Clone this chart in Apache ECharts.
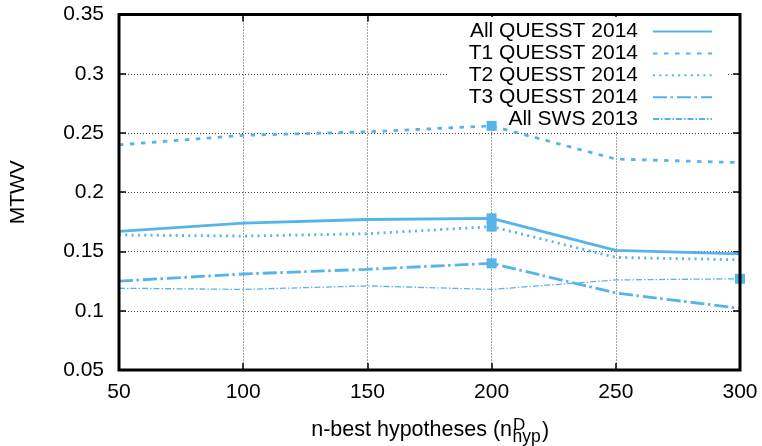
<!DOCTYPE html>
<html>
<head>
<meta charset="utf-8">
<script src="https://cdn.jsdelivr.net/npm/echarts@6/dist/echarts.min.js"></script>
<style>
html,body{margin:0;padding:0;background:#fff;}
#chart{width:762px;height:446px;}
</style>
</head>
<body>
<div id="chart"></div>
<script>
const xValues = [50, 100, 150, 200, 250, 300];
const seriesNames = ['All QUESST 2014', 'T1 QUESST 2014', 'T2 QUESST 2014', 'T3 QUESST 2014', 'All SWS 2013'];
const allQuesst = [0.167, 0.174, 0.177, 0.178, 0.151, 0.148];
const t1Quesst = [0.240, 0.248, 0.251, 0.256, 0.228, 0.225];
const t2Quesst = [0.164, 0.163, 0.165, 0.171, 0.145, 0.143];
const t3Quesst = [0.125, 0.131, 0.135, 0.140, 0.115, 0.102];
const allSws = [0.119, 0.118, 0.121, 0.118, 0.126, 0.127];
const markerIndex = [3, 3, 3, 3, 5];
const yTicks = ['0.05', '0.1', '0.15', '0.2', '0.25', '0.3', '0.35'];

const COLOR = '#56B4E9';
const FONT = '"Liberation Sans", Arial, Helvetica, sans-serif';
const values = [allQuesst, t1Quesst, t2Quesst, t3Quesst, allSws];
const styles = [
  {width: 2.8, type: 'solid'},
  {width: 2.8, type: [4.5, 6.5]},
  {width: 2.8, type: [2, 4.3]},
  {width: 2.8, type: [14, 3.5, 2.5, 4]},
  {width: 1.3, type: [6, 2, 1.5, 2]}
];

function buildData(arr, mi) {
  return arr.map((v, i) => i === mi
    ? {value: [xValues[i], v], symbol: 'rect', symbolSize: 10}
    : {value: [xValues[i], v], symbol: 'none'});
}

const series = values.map((arr, k) => ({
  name: seriesNames[k],
  type: 'line',
  data: buildData(arr, markerIndex[k]),
  symbol: 'none',
  showSymbol: true,
  clip: false,
  z: 3,
  color: COLOR,
  lineStyle: {color: COLOR, width: styles[k].width, type: styles[k].type, cap: 'butt'},
  itemStyle: {color: COLOR},
  emphasis: {disabled: true},
  animation: false
}));

const chart = echarts.init(document.getElementById('chart'), null, {renderer: 'canvas'});
chart.setOption({
  animation: false,
  backgroundColor: '#fff',
  textStyle: {fontFamily: FONT},
  grid: {left: 116.5, right: 22, top: 14.5, bottom: 76, show: true, borderColor: '#000', borderWidth: 3, backgroundColor: 'transparent', z: 5},
  legend: {
    data: seriesNames,
    orient: 'vertical',
    align: 'right',
    right: 35,
    top: 17,
    padding: [4, 14, 2, 20],
    itemWidth: 59,
    itemHeight: 14,
    itemGap: 0.9,
    backgroundColor: '#fff',
    z: 1,
    itemStyle: {opacity: 0, color: 'rgba(0,0,0,0)', borderWidth: 0},
    textStyle: {fontFamily: FONT, fontSize: 21, color: '#000', lineHeight: 21, padding: [0, 10, 0, 0]},
    selectedMode: false
  },
  xAxis: [{
    type: 'value', min: 50, max: 300, interval: 50,
    axisLine: {show: false},
    axisTick: {show: true, inside: true, length: 7, lineStyle: {color: '#000', width: 1.5}},
    axisLabel: {fontFamily: FONT, fontSize: 21, color: '#000', margin: 12},
    splitLine: {show: true, lineStyle: {color: '#444', width: 1, type: [1, 2]}}
  }, {
    type: 'value', min: 50, max: 300, interval: 50, position: 'top',
    axisLine: {show: false},
    axisTick: {show: true, inside: true, length: 7, lineStyle: {color: '#000', width: 1.5}},
    axisLabel: {show: false},
    splitLine: {show: false}
  }],
  yAxis: [{
    type: 'value', min: 0.05, max: 0.35, interval: 0.05,
    name: 'MTWV', nameLocation: 'middle', nameGap: 90, nameRotate: 90,
    nameTextStyle: {fontFamily: FONT, fontSize: 21, color: '#000'},
    axisLine: {show: false},
    axisTick: {show: true, inside: true, length: 7, lineStyle: {color: '#000', width: 1.5}},
    axisLabel: {fontFamily: FONT, fontSize: 21, color: '#000', margin: 15,
      formatter: (v) => yTicks[Math.round((v - 0.05) / 0.05)]},
    splitLine: {show: true, lineStyle: {color: '#444', width: 1, type: [1, 2]}}
  }, {
    type: 'value', min: 0.05, max: 0.35, interval: 0.05, position: 'right',
    axisLine: {show: false},
    axisTick: {show: true, inside: true, length: 7, lineStyle: {color: '#000', width: 1.5}},
    axisLabel: {show: false},
    splitLine: {show: false}
  }],
  graphic: [
    {type: 'text', x: 512, y: 430.5, style: {text: 'n-best hypotheses (n', fontFamily: FONT, fontSize: 21.5, fill: '#000', align: 'right', verticalAlign: 'middle'}},
    {type: 'text', x: 513, y: 425, style: {text: 'D', fontFamily: FONT, fontSize: 17, fill: '#000', align: 'left', verticalAlign: 'middle'}},
    {type: 'text', x: 512.5, y: 437, style: {text: 'hyp', fontFamily: FONT, fontSize: 17.5, fill: '#000', align: 'left', verticalAlign: 'middle'}},
    {type: 'text', x: 542, y: 431, style: {text: ')', fontFamily: FONT, fontSize: 21.5, fill: '#000', align: 'left', verticalAlign: 'middle'}}
  ],
  series: series
});
</script>
</body>
</html>
